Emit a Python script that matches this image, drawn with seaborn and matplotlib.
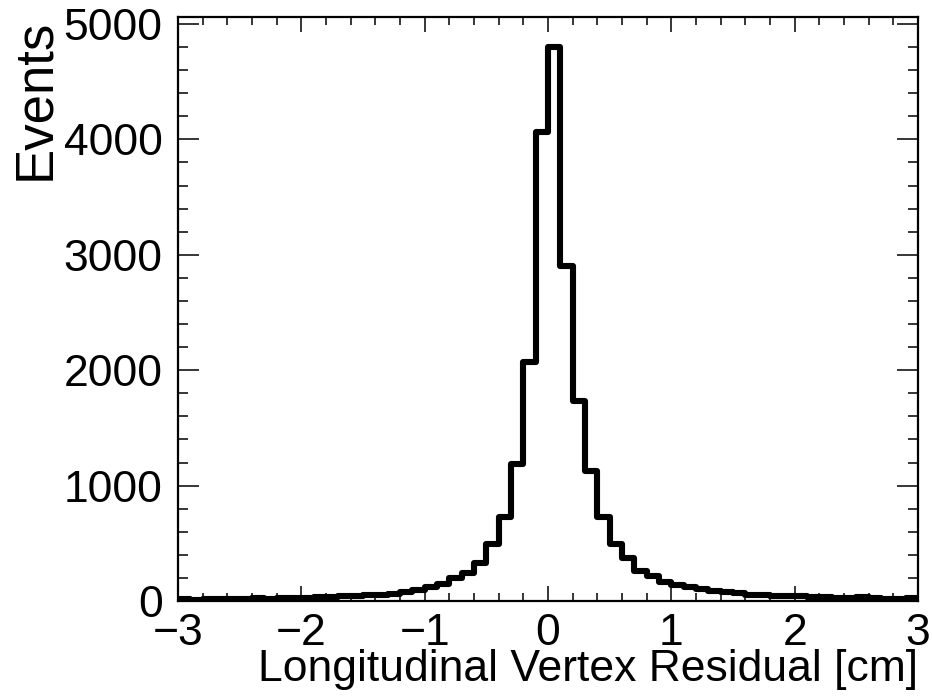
import numpy as np
import pandas as pd
import matplotlib
matplotlib.use("Agg")
import matplotlib.pyplot as plt
import seaborn as sns
from matplotlib.ticker import MultipleLocator

# Bin lower edges: -3.0 ... 2.9 in steps of 0.1
bin_lo = [round(-3.0 + 0.1 * i, 1) for i in range(60)]
counts = [
    15, 12, 18, 15, 20, 18, 22, 20, 25, 28,
    30, 35, 32, 45, 40, 48, 52, 60, 80, 95,
    120, 150, 195, 245, 325, 495, 730, 1190, 2070, 4060,
    4800, 2900, 1735, 1125, 730, 490, 370, 260, 215, 165,
    140, 125, 100, 90, 75, 65, 55, 50, 45, 40,
    45, 38, 35, 30, 28, 35, 25, 20, 18, 30,
]
x_ticks = [-3, -2, -1, 0, 1, 2, 3]
y_ticks = [0, 1000, 2000, 3000, 4000, 5000]
x_label = "Longitudinal Vertex Residual [cm]"
y_label = "Events"

df = pd.DataFrame({"x": [b + 0.05 for b in bin_lo], "w": counts})

sns.set_style("ticks")
plt.rcParams["font.family"] = ["Liberation Sans", "DejaVu Sans"]

fig = plt.figure(figsize=(9.32, 6.98), dpi=100)
ax = fig.add_axes([178 / 932, 1 - 601 / 698, 740 / 932, 584 / 698])

sns.histplot(data=df, x="x", weights="w", binwidth=0.1, binrange=(-3.0, 3.0),
             element="step", fill=False, color="black", linewidth=4.4, ax=ax)

ax.set_xlim(-3, 3)
ax.set_ylim(0, 5060)
ax.set_xticks(x_ticks)
ax.set_yticks(y_ticks)
ax.xaxis.set_minor_locator(MultipleLocator(0.2))
ax.yaxis.set_minor_locator(MultipleLocator(200))

for s in ax.spines.values():
    s.set_visible(True)
    s.set_linewidth(1.6)
    s.set_color("black")

ax.tick_params(axis="both", which="both", direction="in", top=True, right=True,
               colors="black", labelcolor="black", labelsize=32, width=1.1)
ax.tick_params(axis="x", which="major", length=11, pad=8.5)
ax.tick_params(axis="x", which="minor", length=5.5)
ax.tick_params(axis="y", which="major", length=15, pad=11)
ax.tick_params(axis="y", which="minor", length=7.5)

ax.set_xlabel(x_label, fontsize=32, loc="right", color="black")
ax.xaxis.set_label_coords(1.0, -0.082)
ax.set_ylabel(y_label, fontsize=38, loc="top", color="black")
ax.yaxis.set_label_coords(-0.159, 0.997)

fig.savefig("out.png", dpi=100, facecolor="white")
